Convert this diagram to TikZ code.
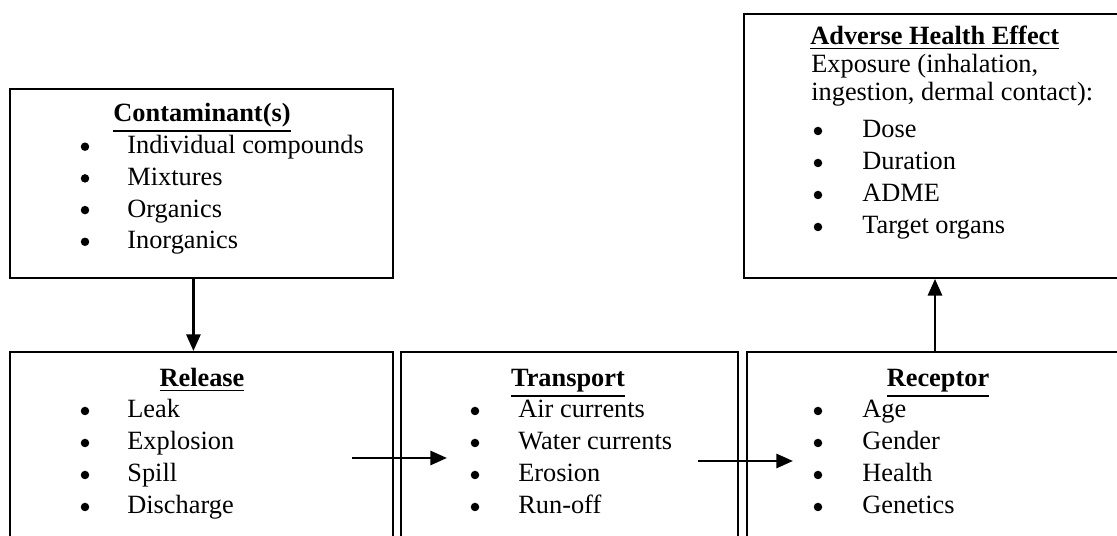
\documentclass[tikz,border=0pt]{standalone}
\usepackage{fontspec}
\setmainfont{Liberation Serif}
\usetikzlibrary{arrows.meta,calc}
\newcommand\myul[1]{\leavevmode\vtop{\hbox{#1}\kern1.3pt\hrule height 1.1pt}}
\begin{document}
\begin{tikzpicture}[x=0.02cm,y=-0.02cm,
  font=\fontsize{15}{18}\selectfont,
  box/.style={draw, line width=1.1pt, inner sep=0pt, anchor=north west},
  title/.style={anchor=base, inner sep=0pt, font=\fontsize{15}{18}\selectfont\bfseries},
  ltitle/.style={anchor=base west, inner sep=0pt, font=\fontsize{15}{18}\selectfont\bfseries},
  item/.style={anchor=base west, inner sep=0pt},
  bul/.style={circle, fill, inner sep=0pt, minimum size=0.17cm},
  flow/.style={-{Triangle[length=9.5pt,width=8pt]}, line width=1.6pt}]
\useasboundingbox (0,0) rectangle (1117,536);
\clip (0,0) rectangle (1117,536);

% boxes
\node[box, minimum width=7.66cm, minimum height=3.78cm] (cont) at (9,88) {};
\node[box, minimum width=7.66cm, minimum height=4.0cm] (rel) at (9,351) {};
\node[box, minimum width=6.74cm, minimum height=4.0cm] (tra) at (400,351) {};
\node[box, minimum width=7.9cm, minimum height=4.0cm] (rec) at (746,351) {};
\node[box, minimum width=7.94cm, minimum height=5.28cm] (adv) at (743,13) {};

% Contaminant(s)
\node[title] (ct) at (202,122) {\myul{Contaminant(s)}};
\foreach \t [count=\i] in {Individual compounds, Mixtures, Organics, Inorganics}{
  \node[bul] (cb\i) at (85,{122+31.7*\i-7}) {};
  \node[item] (ci\i) at (127,{122+31.7*\i}) {\t};
}

% Release
\node[title] (rt) at (202,387) {\myul{Release}};
\foreach \t [count=\i] in {Leak, Explosion, Spill, Discharge}{
  \node[bul] (rb\i) at (85,{386+32*\i-7}) {};
  \node[item] (ri\i) at (127,{386+32*\i}) {\t};
}

% Transport
\node[title] (tt) at (568,387) {\myul{Transport}};
\foreach \t [count=\i] in {Air currents, Water currents, Erosion, Run-off}{
  \node[bul] (tb\i) at (475,{386+32*\i-7}) {};
  \node[item] (ti\i) at (518,{386+32*\i}) {\t};
}

% Receptor
\node[title] (pt) at (938,387) {\myul{Receptor}};
\foreach \t [count=\i] in {Age, Gender, Health, Genetics}{
  \node[bul] (pb\i) at (818,{386+32*\i-7}) {};
  \node[item] (pi\i) at (862,{386+32*\i}) {\t};
}

% Adverse Health Effect
\node[ltitle] (at) at (810,45) {\myul{Adverse Health Effect}};
\node[item] (ae1) at (811,73) {Exposure (inhalation,};
\node[item] (ae2) at (811,101) {ingestion, dermal contact):};
\foreach \t [count=\i] in {Dose, Duration, ADME, Target organs}{
  \node[bul] (ab\i) at (818,{106+32*\i-7}) {};
  \node[item] (ai\i) at (862,{106+32*\i}) {\t};
}

% connectors
\draw[flow] ([xshift=-0.16cm]cont.south) -- ([xshift=-0.16cm]cont.south |- rel.north);
\coordinate (h1s) at (352,458);
\coordinate (h1e) at (447,458);
\coordinate (h2s) at (698,461);
\coordinate (h2e) at (793,461);
\draw[flow] (h1s) -- (h1e);
\draw[flow] (h2s) -- (h2e);
\draw[flow] (rec.north -| 935,0) -- (adv.south -| 935,0);
\end{tikzpicture}
\end{document}
